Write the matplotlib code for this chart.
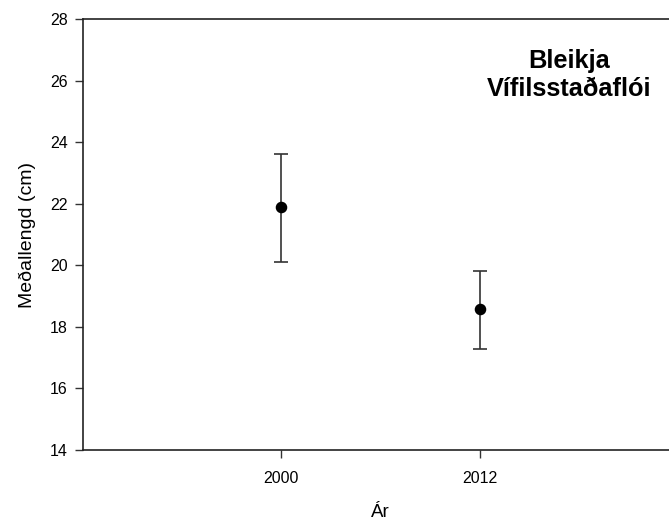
import matplotlib
matplotlib.use("Agg")
import matplotlib.pyplot as plt

plt.rcParams['font.family'] = ['Liberation Sans', 'DejaVu Sans']

years = ["2000", "2012"]
means = [21.9, 18.58]
upper = [23.62, 19.83]
lower = [20.11, 17.28]
yticks = [14, 16, 18, 20, 22, 24, 26, 28]

x = [1, 2]
err_low = [m - l for m, l in zip(means, lower)]
err_high = [u - m for m, u in zip(means, upper)]

fig = plt.figure(figsize=(6.69, 5.23), dpi=100)
ax = fig.add_axes([83/669, 73/523, 595/669, 431/523])

ax.errorbar(x, means, yerr=[err_low, err_high], fmt='o', color='black',
            ecolor='#333333', elinewidth=1.2, capsize=4.7, capthick=1.2,
            markersize=7.3, clip_on=False)

ax.set_xlim(0, 3)
ax.set_ylim(14, 28)
ax.set_xticks(x)
ax.set_xticklabels(years, fontsize=11.5)
ax.set_yticks(yticks)
ax.set_yticklabels([str(t) for t in yticks], fontsize=11.5)
ax.tick_params(direction='out', length=6, width=1, color='#333333')
ax.tick_params(axis='y', pad=5)
ax.tick_params(axis='x', pad=9)
ax.spines['right'].set_visible(False)
for s in ['left', 'bottom', 'top']:
    ax.spines[s].set_color('#222222')
    ax.spines[s].set_linewidth(1.2)

ax.set_xlabel("Ár", fontsize=13.5, labelpad=13)
ax.set_ylabel("Meðallengd (cm)", fontsize=14, labelpad=10)

fig.text(569/669, 1 - 75/523, "Bleikja\nVífilsstaðaflói", ha='center', va='center',
         fontsize=18.3, fontweight='bold', linespacing=1.22)

fig.savefig("out.png", dpi=100)
